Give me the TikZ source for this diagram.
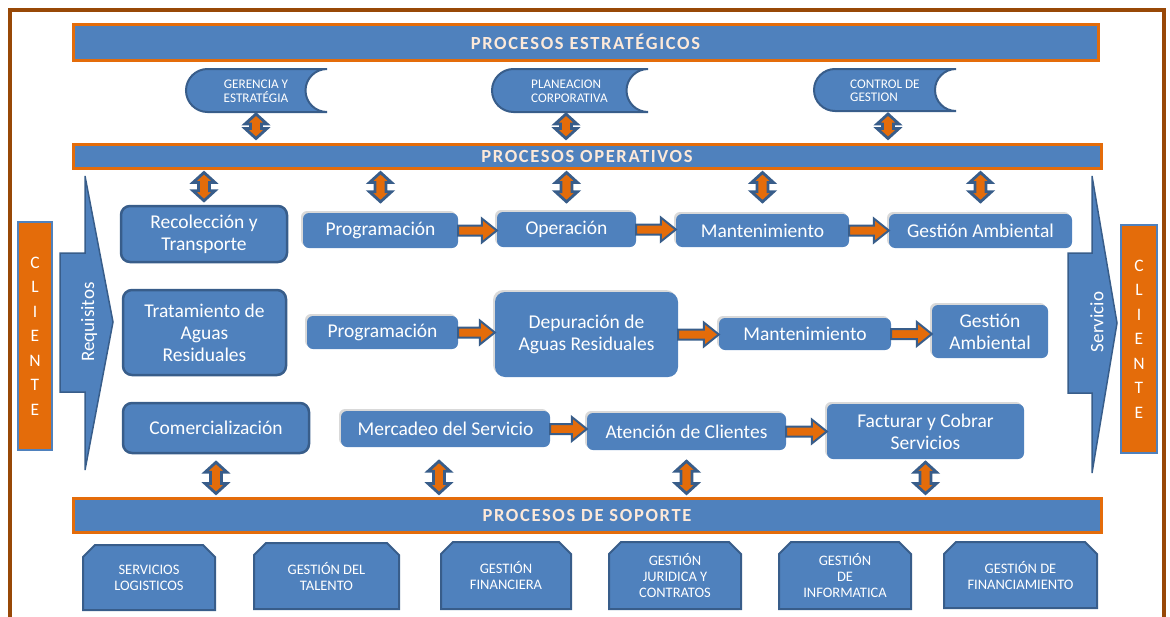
\documentclass[tikz,border=0pt]{standalone}
\usepackage{fontspec}
\setmainfont{Carlito}
\newfontfamily\headfont[LetterSpace=9]{Carlito}
\usetikzlibrary{shapes.misc,shadows,calc}

\definecolor{procblue}{HTML}{4F81BD}
\definecolor{procdark}{HTML}{385D8A}
\definecolor{procorange}{HTML}{E46C0A}
\definecolor{procbrown}{HTML}{984807}
\definecolor{proccream}{HTML}{FDE9D9}

\tikzset{
  bar/.style={fill=procblue, draw=procorange, line width=3pt, inner sep=0pt,
    text=proccream, font=\headfont\bfseries\fontsize{18.5}{20}\selectfont},
  mainbox/.style={fill=procblue, draw=procdark, line width=2.5pt, rounded corners=9pt,
    text=white, align=center, inner sep=0pt, font=\fontsize{19.5}{22}\selectfont},
  stepbox/.style={fill=procblue, rounded corners=6pt, text=white, align=center, inner sep=0pt,
    font=\fontsize{19.5}{22}\selectfont,
    drop shadow={shadow xshift=-2pt, shadow yshift=2pt, opacity=.15, fill=black}},
  supbox/.style={chamfered rectangle, chamfered rectangle corners={north west,north east},
    chamfered rectangle sep=6pt, fill=procblue, draw=procdark, line width=2pt,
    text=white, align=center, inner sep=0pt, font=\fontsize{14.5}{16}\selectfont},
  clientbox/.style={fill=procorange, draw=procblue, line width=2pt, text=white,
    align=center, inner sep=0pt, font=\fontsize{17.5}{24.5}\selectfont},
  stratbox/.style={fill=procblue, draw=procdark, line width=2pt},
  strattext/.style={text=white, inner sep=0pt, font=\fontsize{13.2}{13.5}\selectfont},
  sidearrow/.style={fill=procblue, draw=procdark, line width=1.5pt},
  sidetext/.style={text=white, rotate=90, inner sep=0pt, font=\fontsize{19}{22}\selectfont},
  flowarr/.style={fill=procorange, draw=procdark, line width=2pt},
  dblarr/.style={fill=procorange, draw=procdark, line width=2.8pt},
}

% block arrow between two boxes of a row
\newcommand{\flowarrow}[2]{%
  \coordinate (fa) at (#1.east);
  \coordinate (fb) at (#2.west |- #1.east);
  \draw[flowarr] ($(fa)+(0,-5)$) -- ($(fb)+(-15,-5)$) -- ($(fb)+(-15,-12)$) -- (fb)
    -- ($(fb)+(-15,12)$) -- ($(fb)+(-15,5)$) -- ($(fa)+(0,5)$) -- cycle;}

% vertical double arrow
\newcommand{\dblarrow}[2]{%
  \coordinate (da) at #1;
  \coordinate (db) at #2;
  \draw[dblarr] (da) -- ($(da)+(11,10)$) -- ($(da)+(5.5,10)$) -- ($(db)+(5.5,-10)$)
    -- ($(db)+(11,-10)$) -- (db) -- ($(db)+(-11,-10)$) -- ($(db)+(-5.5,-10)$)
    -- ($(da)+(-5.5,10)$) -- ($(da)+(-11,10)$) -- cycle;}

\begin{document}
\begin{tikzpicture}[x=1pt,y=-1pt]
\useasboundingbox (0,0) rectangle (1170,616);

% frame
\draw[procbrown, line width=4pt] (9.5,630) -- (9.5,10) -- (1164,10) -- (1164,630);

% process bars
\node[bar, minimum width=1025pt, minimum height=36pt] (bar1) at (585.5,42) {PROCESOS ESTRATÉGICOS};
\node[bar, minimum width=1028pt, minimum height=24pt] (bar2) at (587,156) {PROCESOS OPERATIVOS};
\node[bar, minimum width=1028pt, minimum height=34pt] (bar3) at (587,515) {PROCESOS DE SOPORTE};

% strategic processes
\draw[stratbox] (327,69) -- (207.5,69) arc[start angle=90,end angle=270,radius=21.5pt]
  -- (327,112) arc[start angle=270,end angle=90,radius=21.5pt] -- cycle;
\draw[stratbox] (648,69) -- (513.5,69) arc[start angle=90,end angle=270,radius=21.5pt]
  -- (648,112) arc[start angle=270,end angle=90,radius=21.5pt] -- cycle;
\draw[stratbox] (956,69) -- (835,69) arc[start angle=90,end angle=270,radius=21pt]
  -- (956,111) arc[start angle=270,end angle=90,radius=21pt] -- cycle;
\node[strattext, align=center] (ger) at (256,91.5) {GERENCIA Y\\ESTRATÉGIA};
\node[strattext, align=left, anchor=west] (plan) at (531,91.5) {PLANEACION\\CORPORATIVA};
\node[strattext, align=left, anchor=west] (ctrl) at (850,91) {CONTROL DE\\GESTION};
\coordinate (gerS) at (256,112);
\coordinate (planS) at (566,112);
\coordinate (ctrlS) at (888,111);

% clients and side arrows
\node[clientbox, minimum width=34pt, minimum height=228pt] (cli1) at (35,336) {C\\L\\I\\E\\N\\T\\E};
\node[clientbox, minimum width=36pt, minimum height=228pt] (cli2) at (1139,339) {C\\L\\I\\E\\N\\T\\E};
\draw[sidearrow] (60,253) -- (85,253) -- (85,176) -- (113,322) -- (85,470) -- (85,392) -- (60,392) -- cycle;
\draw[sidearrow] (1068,253) -- (1092,253) -- (1092,176) -- (1117,323) -- (1092,473) -- (1092,393) -- (1068,393) -- cycle;
\node[sidetext] (req) at (89,322) {Requisitos};
\node[sidetext] (serv) at (1097,322) {Servicio};

% row 1
\node[mainbox, minimum width=166pt, minimum height=56pt] (rec) at (204,234) {Recolección y\\Transporte};
\node[stepbox, minimum width=155pt, minimum height=35pt] (prog1) at (380.5,230.5) {Programación};
\node[stepbox, minimum width=139pt, minimum height=35pt] (oper) at (566.5,229.5) {Operación};
\node[stepbox, minimum width=173pt, minimum height=33pt] (mant1) at (762.5,230.5) {Mantenimiento};
\node[stepbox, minimum width=183pt, minimum height=34pt] (gamb1) at (980.5,231) {Gestión Ambiental};

% row 2
\node[mainbox, minimum width=163pt, minimum height=85pt] (trat) at (204.5,332.5) {Tratamiento de\\Aguas\\Residuales};
\node[stepbox, minimum width=151pt, minimum height=33pt] (prog2) at (382.5,332.5) {Programación};
\node[stepbox, minimum width=183pt, minimum height=85pt, rounded corners=10pt] (dep) at (586.5,334.5) {Depuración de\\Aguas Residuales};
\node[stepbox, minimum width=172pt, minimum height=32pt] (mant2) at (805,334) {Mantenimiento};
\node[stepbox, minimum width=116pt, minimum height=53pt] (gamb2) at (990,331.5) {Gestión\\Ambiental};

% row 3
\node[mainbox, minimum width=186pt, minimum height=50pt] (com) at (216,428) {Comercialización};
\node[stepbox, minimum width=209pt, minimum height=36pt] (merc) at (445.5,429) {Mercadeo del Servicio};
\node[stepbox, minimum width=199pt, minimum height=37pt] (aten) at (686.5,431.5) {Atención de Clientes};
\node[stepbox, minimum width=197pt, minimum height=55pt] (fact) at (925.5,431.5) {Facturar y Cobrar\\Servicios};

% support processes
\node[supbox, minimum width=132pt, minimum height=65pt] (sup1) at (149,577.5) {SERVICIOS\\LOGISTICOS};
\node[supbox, minimum width=145pt, minimum height=66pt] (sup2) at (326.5,576) {GESTIÓN DEL\\TALENTO};
\node[supbox, minimum width=130pt, minimum height=67pt] (sup3) at (506,575.5) {GESTIÓN\\FINANCIERA};
\node[supbox, minimum width=132pt, minimum height=67pt] (sup4) at (675,575.5) {GESTIÓN\\JURIDICA Y\\CONTRATOS};
\node[supbox, minimum width=132pt, minimum height=67pt] (sup5) at (845,575.5) {GESTIÓN\\DE\\INFORMATICA};
\node[supbox, minimum width=153pt, minimum height=66pt] (sup6) at (1020.5,575) {GESTIÓN DE\\FINANCIAMIENTO};

% flow arrows
\flowarrow{prog1}{oper}
\flowarrow{oper}{mant1}
\flowarrow{mant1}{gamb1}
\flowarrow{prog2}{dep}
\flowarrow{dep}{mant2}
\flowarrow{mant2}{gamb2}
\flowarrow{merc}{aten}
\flowarrow{aten}{fact}

% double arrows
\dblarrow{($(gerS)+(0,2)$)}{($(bar2.north -| gerS)+(0,-4)$)}
\dblarrow{($(planS)+(0,2)$)}{($(bar2.north -| planS)+(0,-4)$)}
\dblarrow{($(ctrlS)+(0,3)$)}{($(bar2.north -| ctrlS)+(0,-4)$)}
\dblarrow{($(bar2.south -| rec.north)+(0,3)$)}{($(rec.north)+(0,-4)$)}
\dblarrow{($(bar2.south -| prog1.north)+(0,3)$)}{($(prog1.north)+(0,-11)$)}
\dblarrow{($(bar2.south -| oper.north)+(0,3)$)}{($(oper.north)+(0,-10)$)}
\dblarrow{($(bar2.south -| mant1.north)+(0,3)$)}{($(mant1.north)+(0,-12)$)}
\dblarrow{($(bar2.south -| gamb1.north)+(0,3)$)}{($(gamb1.north)+(0,-12)$)}
\dblarrow{($(com.south)+(0,8)$)}{($(bar3.north -| com.south)+(0,-3)$)}
\dblarrow{($(merc.south -| 439,0)+(0,14)$)}{($(bar3.north -| 439,0)+(0,-3)$)}
\dblarrow{($(aten.south)+(0,11)$)}{($(bar3.north -| aten.south)+(0,-3)$)}
\dblarrow{($(fact.south)+(0,3)$)}{($(bar3.north -| fact.south)+(0,-3)$)}
\end{tikzpicture}
\end{document}
